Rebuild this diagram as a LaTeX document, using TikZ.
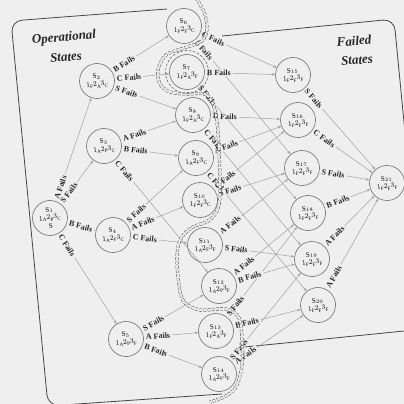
\documentclass[tikz,border=0pt]{standalone}
\usepackage{fontspec}
\setmainfont{Liberation Serif}
\usetikzlibrary{arrows.meta}
\definecolor{bg}{RGB}{239,239,239}
\definecolor{edgec}{RGB}{160,160,160}
\definecolor{circc}{RGB}{125,125,125}
\definecolor{boxc}{RGB}{70,70,70}
\newcommand\stlab[4]{$\mathrm{S}_{#1}$\\$1_{\mathrm{#2}}\mkern-1mu\raisebox{1.2pt}{$2$}_{\mathrm{#3}}\mkern-1mu\raisebox{1.2pt}{$3$}_{\mathrm{#4}}$}
\begin{document}
\begin{tikzpicture}[x=1pt,y=-1pt,
  st/.style={circle, draw=circc, line width=0.7pt, minimum size=35pt, inner sep=0pt,
    align=center, font=\fontsize{7}{8.5}\selectfont, rotate=5, fill=bg},
  edge/.style={draw=edgec, line width=0.5pt, -{Stealth[length=3.5pt,width=2.6pt]}},
  lbl/.style={pos=0, anchor=west, sloped, fill=bg, inner xsep=2pt, inner ysep=0.4pt,
    font=\bfseries\fontsize{8}{8}\selectfont, text=black!85},
  ttl/.style={font=\bfseries\itshape\fontsize{13}{13}\selectfont, rotate=5, text=black!85},
  bnd/.style={draw=black!75, line width=0.45pt, dash pattern=on 2.6pt off 1.6pt,
    double=bg, double distance=2.2pt},
  boxline/.style={draw=boxc, line width=0.8pt, rounded corners=11pt}]
\fill[bg] (0,0) rectangle (404,404);
\useasboundingbox (0,0) rectangle (404,404);

% region boxes
\draw[boxline] (167,9) -- (11,21) -- (48,406) -- (222,394);
\draw[boxline] (222,36) -- (394,19) -- (424,329) -- (245,347);

% titles
\node[ttl] (t1) at (64,38) {Operational};
\node[ttl] (t2) at (66,57) {States};
\node[ttl] (t3) at (354,41) {Failed};
\node[ttl] (t4) at (357,60) {States};

% states
\node[st] (s1) at (50,218) {\stlab{1}{A}{P}{C}\\$\mathrm{S}$};
\node[st] (s2) at (97,81) {\stlab{2}{F}{A}{C}};
\node[st] (s3) at (104,146) {\stlab{3}{A}{P}{C}};
\node[st] (s4) at (113,235) {\stlab{4}{A}{F}{C}};
\node[st] (s5) at (126,339) {\stlab{5}{A}{P}{F}};
\node[st] (s6) at (184,26) {\stlab{6}{F}{F}{C}};
\node[st] (s7) at (187,72) {\stlab{7}{F}{A}{F}};
\node[st] (s8) at (193,115) {\stlab{8}{F}{A}{C}};
\node[st] (s9) at (196,158) {\stlab{9}{A}{F}{C}};
\node[st] (s10) at (200,200) {\stlab{10}{F}{F}{C}};
\node[st] (s11) at (205,245) {\stlab{11}{A}{F}{F}};
\node[st] (s12) at (219,286) {\stlab{12}{A}{P}{F}};
\node[st] (s13) at (216,331) {\stlab{13}{F}{A}{F}};
\node[st] (s14) at (219,374) {\stlab{14}{A}{F}{F}};
\node[st] (s15) at (293,75) {\stlab{15}{F}{F}{F}};
\node[st] (s16) at (298,120) {\stlab{16}{F}{F}{F}};
\node[st] (s17) at (302,168) {\stlab{17}{F}{F}{F}};
\node[st] (s18) at (308,213) {\stlab{18}{F}{F}{F}};
\node[st] (s19) at (312,259) {\stlab{19}{F}{F}{F}};
\node[st] (s20) at (318,305) {\stlab{20}{F}{F}{F}};
\node[st] (s21) at (387,183) {\stlab{21}{F}{F}{F}};

\def\edgelist{s1/s2/A, s1/s3/S, s1/s4/B, s1/s5/C,
  s2/s6/B, s2/s7/C, s2/s8/S,
  s3/s8/A, s3/s9/B, s3/s12/C,
  s4/s9/S, s4/s10/A, s4/s11/C,
  s5/s12/S, s5/s13/A, s5/s14/B,
  s6/s15/C, s6/s17/S, s7/s15/B, s7/s18/S,
  s8/s16/B, s8/s19/C, s9/s16/A, s9/s20/C,
  s10/s17/S, s10/s16/C, s11/s17/A, s11/s19/S,
  s12/s18/A, s12/s19/B, s13/s18/S, s13/s20/B,
  s14/s20/A, s14/s19/S,
  s15/s21/S, s16/s21/C, s17/s21/S, s18/s21/B, s19/s21/A, s20/s21/A}
\foreach \a/\b/\t in \edgelist {\draw[edge] (\a) -- (\b);}
\foreach \a/\b/\t in \edgelist {\path (\a) -- node[lbl] {\t\ Fails} (\b);}

% dashed boundary between operational and failed states
\draw[bnd] plot[smooth, tension=0.55] coordinates {(196,-2) (204,12) (207,28) (202,41)
  (184,48) (166,55) (158,70) (160,84) (170,92) (187,94) (205,94) (213,104) (217,122)
  (219,150) (220,180) (220,197) (217,211) (208,221) (191,228) (180,240) (177,258)
  (179,285) (184,302) (200,310) (226,309) (239,318) (242,340) (242,365) (236,387)
  (224,397) (210,402)};
\draw[draw=black!75, line width=0.45pt, dash pattern=on 2.6pt off 1.6pt] (s7.center) circle[radius=21.5pt];
\end{tikzpicture}
\end{document}
